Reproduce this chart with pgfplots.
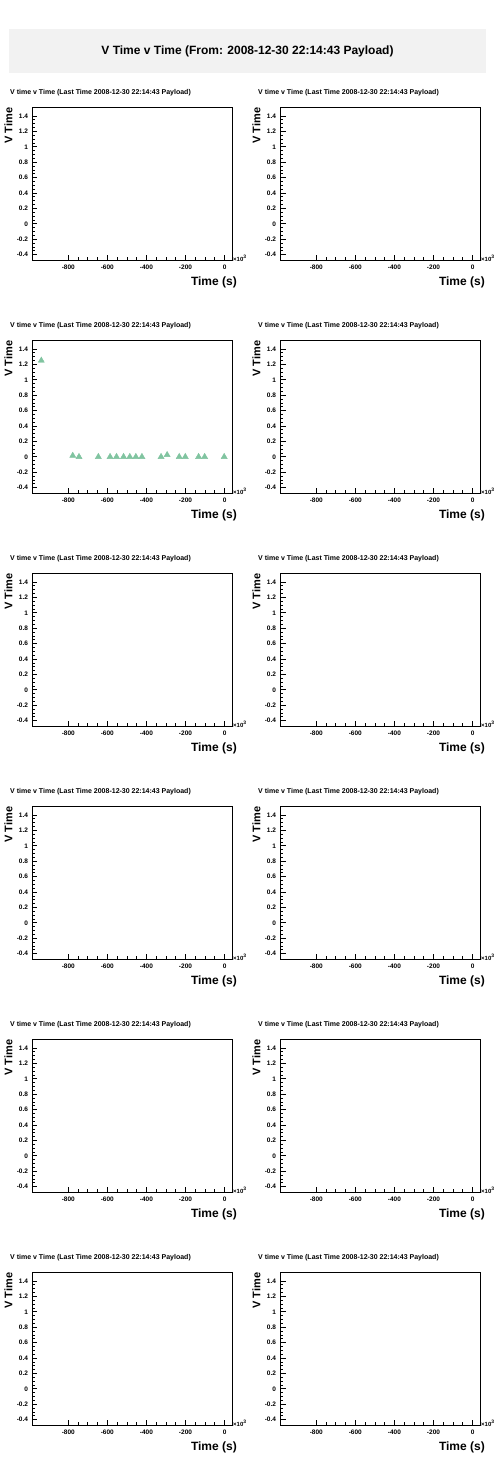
\documentclass[border=0pt]{standalone}
\usepackage{pgfplots}
\pgfplotsset{compat=1.18}
\usepackage{fontspec}
\setmainfont{Liberation Sans}
\definecolor{mk}{RGB}{128,196,160}
\definecolor{tbox}{RGB}{242,242,242}

\pgfplotsset{vt/.style={
  scale only axis, width=199.5pt, height=152.5pt, anchor=north west,
  xmin=-983, xmax=38, ymin=-0.47, ymax=1.51,
  xtick={-800,-600,-400,-200,0},
  ytick={-0.4,-0.2,0,0.2,0.4,0.6,0.8,1,1.2,1.4},
  minor x tick num=3, minor y tick num=3,
  tick align=inside, tick pos=left,
  major tick length=5pt, minor tick length=2.8pt,
  scaled ticks=false,
  axis line style={line width=0.8pt},
  every tick/.style={black, line width=0.7pt},
  ticklabel style={font=\fontsize{6.5}{7.5}\selectfont\bfseries},
  /pgf/number format/assume math mode=true,
  yticklabel style={/pgf/number format/fixed, /pgf/number format/precision=1, xshift=-1pt},
  xticklabel style={yshift=-1pt},
  clip=false,
}}

\newcommand{\panel}[3]{%
\begin{axis}[vt, at={(#1pt,#2pt)}]
#3
\draw[line width=1.8pt] (rel axis cs:0,1) -- (rel axis cs:1,1);
\node[anchor=west, font=\fontsize{7}{8}\selectfont\bfseries, inner sep=0pt] at ([shift={(-22.5pt,14.5pt)}]rel axis cs:0,1) {V time v Time (Last Time 2008-12-30 22:14:43 Payload)};
\node[rotate=90, font=\fontsize{11}{13}\selectfont\bfseries, inner sep=0pt] at ([shift={(-24pt,-18pt)}]rel axis cs:0,1) {V Time};
\node[anchor=east, font=\fontsize{12}{14}\selectfont\bfseries, inner sep=0pt] at ([shift={(5pt,-22pt)}]rel axis cs:1,0) {Time (s)};
\node[anchor=south west, font=\fontsize{6}{7}\selectfont\bfseries, inner sep=0pt] at ([shift={(1pt,-1.5pt)}]rel axis cs:1,0) {×10\textsuperscript{3}};
\end{axis}}

\begin{document}
\begin{tikzpicture}
\useasboundingbox (0pt,0pt) rectangle (496pt,-1472pt);
\fill[white] (0pt,0pt) rectangle (496pt,-1472pt);
\fill[tbox] (9pt,-29pt) rectangle (486pt,-73pt);
\node[font=\fontsize{12}{14}\selectfont\bfseries] at (247.5pt,-51pt) {V Time v Time (From: 2008-12-30 22:14:43 Payload)};

\panel{32.5}{-107.5}{}
\panel{280.5}{-107.5}{}
\panel{32.5}{-340.5}{
\addplot[only marks, mark=triangle*, mark size=3.5pt, mark options={fill=mk, draw=mk}] coordinates {
(-938,1.25) (-777,0.015) (-745,0) (-646,0) (-586,0) (-553,0) (-517,0) (-485,0) (-454,0) (-423,0)
(-325,0) (-294,0.025) (-232,0) (-201,0) (-133,0) (-102,0) (-2,0)
};}
\panel{280.5}{-340.5}{}
\panel{32.5}{-573.5}{}
\panel{280.5}{-573.5}{}
\panel{32.5}{-806.5}{}
\panel{280.5}{-806.5}{}
\panel{32.5}{-1039.5}{}
\panel{280.5}{-1039.5}{}
\panel{32.5}{-1272.5}{}
\panel{280.5}{-1272.5}{}
\end{tikzpicture}
\end{document}
